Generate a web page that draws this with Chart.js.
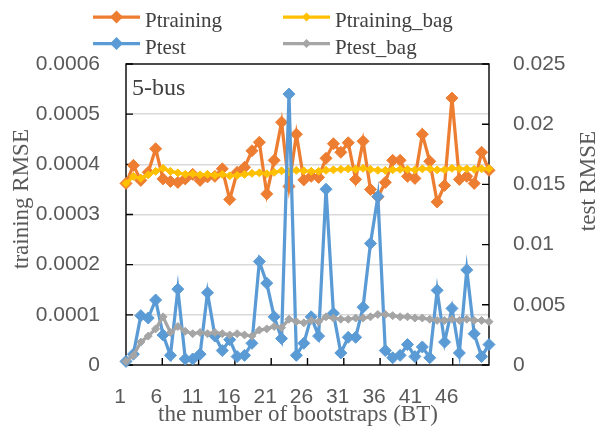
<!DOCTYPE html>
<html>
<head>
<meta charset="utf-8">
<script src="https://cdn.jsdelivr.net/npm/chart.js@4.4.1/dist/chart.umd.min.js"></script>
<style>
    html, body { margin: 0; padding: 0; background: #fff; }
</style>
</head>
<body>
<canvas id="rmseChart" width="608" height="429"></canvas>
<script>
// number of bootstraps (BT)
const bootstraps = [
    '1', '2', '3', '4', '5', '6', '7', '8', '9', '10',
    '11', '12', '13', '14', '15', '16', '17', '18', '19', '20',
    '21', '22', '23', '24', '25', '26', '27', '28', '29', '30',
    '31', '32', '33', '34', '35', '36', '37', '38', '39', '40',
    '41', '42', '43', '44', '45', '46', '47', '48', '49', '50',
];

// labelled ticks on the BT axis, which runs 1..51
const xTickValues = [1, 6, 11, 16, 21, 26, 31, 36, 41, 46];
const xTickAxisMax = 51;

// left axis: training RMSE
const ptraining = [
    0.000362, 0.000398, 0.000368, 0.000384, 0.000431, 0.000371, 0.000366, 0.000364, 0.000371, 0.000380,
    0.000368, 0.000375, 0.000376, 0.000391, 0.000330, 0.000384, 0.000394, 0.000427, 0.000444, 0.000341,
    0.000408, 0.000484, 0.000356, 0.000460, 0.000369, 0.000376, 0.000374, 0.000412, 0.000441, 0.000424,
    0.000443, 0.000370, 0.000446, 0.000350, 0.000335, 0.000364, 0.000408, 0.000408, 0.000376, 0.000372,
    0.000460, 0.000406, 0.000325, 0.000358, 0.000532, 0.000370, 0.000376, 0.000362, 0.000424, 0.000388,
];
const ptrainingBag = [
    0.000362, 0.000376, 0.000372, 0.000379, 0.000386, 0.000392, 0.000386, 0.000383, 0.000380, 0.000381,
    0.000379, 0.000380, 0.000378, 0.000380, 0.000377, 0.000378, 0.000380, 0.000382, 0.000383, 0.000381,
    0.000384, 0.000387, 0.000385, 0.000388, 0.000387, 0.000386, 0.000386, 0.000388, 0.000389, 0.000390,
    0.000391, 0.000390, 0.000392, 0.000390, 0.000388, 0.000388, 0.000389, 0.000390, 0.000390, 0.000389,
    0.000391, 0.000391, 0.000389, 0.000389, 0.000392, 0.000391, 0.000391, 0.000390, 0.000391, 0.000391,
];

// right axis: test RMSE
const ptest = [
    0.0003, 0.0009, 0.0041, 0.0039, 0.0054, 0.0025, 0.0008, 0.0063, 0.0005, 0.0005,
    0.0009, 0.0060, 0.0024, 0.0012, 0.0021, 0.0007, 0.0008, 0.0018, 0.0086, 0.0068,
    0.0040, 0.0022, 0.0225, 0.0008, 0.0018, 0.0040, 0.0024, 0.0146, 0.0043, 0.0010,
    0.0023, 0.0023, 0.0048, 0.0101, 0.0140, 0.0012, 0.0006, 0.0008, 0.0017, 0.0007,
    0.0015, 0.0006, 0.0062, 0.0019, 0.0047, 0.0010, 0.0079, 0.0026, 0.0007, 0.0017,
];
const ptestBag = [
    0.0003, 0.0008, 0.0019, 0.0024, 0.0030, 0.0040, 0.0027, 0.0032, 0.0028, 0.0026,
    0.0027, 0.0026, 0.0027, 0.0026, 0.0025, 0.0026, 0.0025, 0.0024, 0.0029, 0.0030,
    0.0032, 0.0031, 0.0038, 0.0036, 0.0035, 0.0037, 0.0036, 0.0040, 0.0039, 0.0038,
    0.0038, 0.0039, 0.0039, 0.0040, 0.0042, 0.0042, 0.0041, 0.0040, 0.0040, 0.0039,
    0.0039, 0.0038, 0.0037, 0.0037, 0.0038, 0.0037, 0.0038, 0.0037, 0.0037, 0.0036,
];

const ORANGE = '#ED7D31';
const YELLOW = '#FFC000';
const BLUE = '#5B9BD5';
const GRAY = '#A5A5A5';

const SERIF = "'Liberation Serif', 'Times New Roman', serif";
const SANS = "'Liberation Sans', Arial, sans-serif";

function series(label, data, color, axis, radius, order) {
    return {
        label,
        data,
        yAxisID: axis,
        borderColor: color,
        backgroundColor: color,
        borderWidth: 3.25,
        pointStyle: 'rectRot',
        pointRadius: radius,
        pointBorderWidth: 1,
        pointBackgroundColor: color,
        pointBorderColor: color,
        tension: 0,
        clip: false,
        order,
    };
}

function drawDiamond(ctx, x, y, r) {
    ctx.beginPath();
    ctx.moveTo(x, y - r);
    ctx.lineTo(x + r, y);
    ctx.lineTo(x, y + r);
    ctx.lineTo(x - r, y);
    ctx.closePath();
    ctx.fill();
}

// inward tick marks + black plot frame (Excel style)
const framePlugin = {
    id: 'frame',
    beforeDatasetsDraw(chart) {
        const { ctx, chartArea: a, scales } = chart;
        ctx.save();
        ctx.strokeStyle = '#000';
        ctx.lineWidth = 1.4;
        ctx.beginPath();
        scales.y.ticks.forEach(t => {
            const py = scales.y.getPixelForValue(t.value);
            ctx.moveTo(a.left, py);
            ctx.lineTo(a.left + 7, py);
        });
        scales.y1.ticks.forEach(t => {
            const py = scales.y1.getPixelForValue(t.value);
            ctx.moveTo(a.right, py);
            ctx.lineTo(a.right - 7, py);
        });
        scales.xt.ticks.forEach(t => {
            const px = scales.xt.getPixelForValue(t.value);
            ctx.moveTo(px, a.bottom);
            ctx.lineTo(px, a.bottom - 7);
        });
        ctx.stroke();
        ctx.strokeRect(a.left, a.top, a.right - a.left, a.bottom - a.top);
        ctx.restore();
    },
};

// legend, axis titles and the "5-bus" note
const textPlugin = {
    id: 'texts',
    afterDraw(chart) {
        const { ctx, chartArea: a } = chart;
        ctx.save();

        const colX = [93, 283];
        const rowY = [17, 43.5];
        ctx.font = `21px ${SERIF}`;
        ctx.textAlign = 'left';
        ctx.textBaseline = 'alphabetic';
        chart.data.datasets.forEach((ds, i) => {
            const x = colX[i % 2];
            const y = rowY[Math.floor(i / 2)];
            ctx.strokeStyle = ds.borderColor;
            ctx.fillStyle = ds.borderColor;
            ctx.lineWidth = 3.25;
            ctx.beginPath();
            ctx.moveTo(x, y);
            ctx.lineTo(x + 47, y);
            ctx.stroke();
            drawDiamond(ctx, x + 23.5, y, ds.pointRadius + 0.5);
            ctx.fillStyle = '#404040';
            ctx.fillText(ds.label, x + 52, y + 10);
        });

        ctx.fillStyle = '#404040';
        ctx.font = `24px ${SERIF}`;
        ctx.fillText('5-bus', a.left + 6, 95);

        ctx.fillStyle = '#595959';
        ctx.font = `23px ${SERIF}`;
        ctx.textAlign = 'center';
        ctx.fillText('the number of bootstraps (BT)', 298, 421);

        ctx.textBaseline = 'middle';
        ctx.save();
        ctx.translate(22, 199);
        ctx.rotate(-Math.PI / 2);
        ctx.fillText('training RMSE', 0, 0);
        ctx.restore();

        ctx.save();
        ctx.translate(589, 181);
        ctx.rotate(-Math.PI / 2);
        ctx.fillText('test RMSE', 0, 0);
        ctx.restore();

        ctx.restore();
    },
};

const tickFont = { family: SANS, size: 21 };

new Chart(document.getElementById('rmseChart'), {
    type: 'line',
    data: {
        labels: bootstraps,
        datasets: [
            series('Ptraining', ptraining, ORANGE, 'y', 6, 4),
            series('Ptraining_bag', ptrainingBag, YELLOW, 'y', 4, 3),
            series('Ptest', ptest, BLUE, 'y1', 6, 2),
            series('Ptest_bag', ptestBag, GRAY, 'y1', 4, 1),
        ],
    },
    options: {
        responsive: false,
        animation: false,
        layout: { padding: { top: 64, left: 0, right: 0, bottom: 0 } },
        plugins: {
            legend: { display: false },
            tooltip: { enabled: false },
        },
        scales: {
            x: { display: false, offset: false },
            xt: {
                type: 'linear',
                position: 'bottom',
                min: 1,
                max: xTickAxisMax,
                grid: { display: false },
                border: { display: false },
                afterBuildTicks: s => { s.ticks = xTickValues.map(v => ({ value: v })); },
                afterFit: s => { s.height = 64; },
                ticks: {
                    autoSkip: false,
                    maxRotation: 0,
                    padding: 12,
                    labelOffset: -6,
                    color: '#595959',
                    font: tickFont,
                    callback: v => String(v),
                },
            },
            y: {
                position: 'left',
                min: 0,
                max: 0.0006,
                afterFit: s => { s.width = 126; },
                border: { display: false },
                grid: {
                    drawTicks: false,
                    lineWidth: 1.5,
                    color: c => (c.index === 0 || c.index === 6) ? 'rgba(0,0,0,0)' : '#d9d9d9',
                },
                ticks: {
                    stepSize: 0.0001,
                    padding: 26,
                    color: '#595959',
                    font: tickFont,
                    callback: v => v === 0 ? '0' : v.toFixed(4),
                },
            },
            y1: {
                position: 'right',
                min: 0,
                max: 0.025,
                afterFit: s => { s.width = 119; },
                border: { display: false },
                grid: { drawOnChartArea: false, drawTicks: false },
                ticks: {
                    stepSize: 0.005,
                    padding: 24,
                    color: '#595959',
                    font: tickFont,
                    callback: v => String(parseFloat(v.toFixed(3))),
                },
            },
        },
    },
    plugins: [framePlugin, textPlugin],
});
</script>
</body>
</html>
